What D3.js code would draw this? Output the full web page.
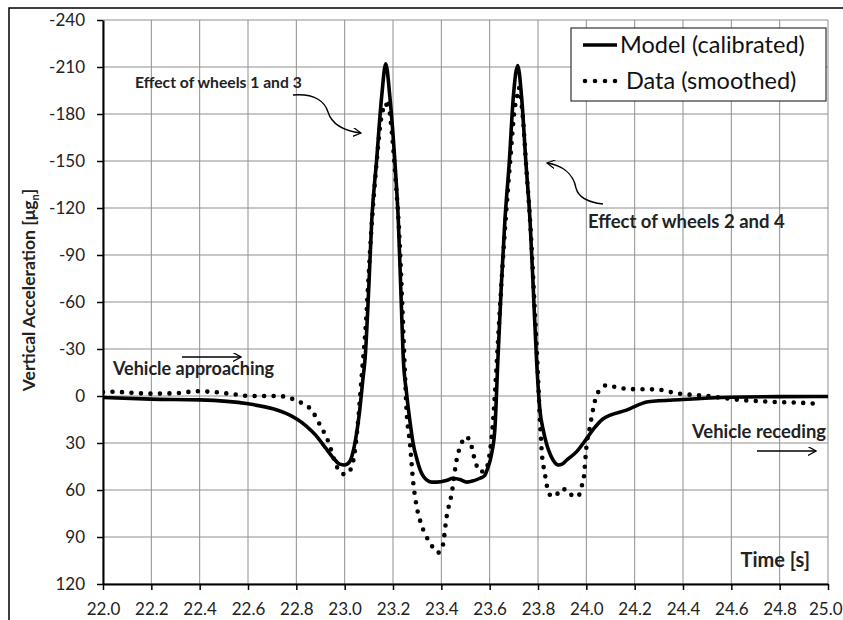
<!DOCTYPE html>
<html>
<head>
<meta charset="utf-8">
<script src="https://cdn.jsdelivr.net/npm/d3@7"></script>
<style>
  body { margin: 0; background: #fff; }
  text { font-family: Lato, "Open Sans", sans-serif; }
</style>
</head>
<body>
<div id="chart"></div>
<script>
var svgWidth = 843;
var svgHeight = 620;

var margin = { top: 20, right: 15, bottom: 36, left: 103 };
var width = 828 - margin.left;
var height = 584 - margin.top;

// Model (calibrated) - solid line
var modelTime = [22.00, 22.20, 22.40, 22.60, 22.80, 22.84, 22.88, 22.92, 22.95, 22.98, 23.00, 23.02, 23.04, 23.06, 23.075, 23.085,
  23.10, 23.112, 23.132, 23.153, 23.170, 23.187, 23.208, 23.222, 23.233, 23.243, 23.256, 23.27, 23.283, 23.30, 23.312, 23.339,
  23.36, 23.381, 23.42, 23.448, 23.48, 23.505, 23.535, 23.560, 23.578, 23.592, 23.608, 23.622, 23.634, 23.648, 23.663, 23.681,
  23.698, 23.716, 23.732, 23.750, 23.767, 23.78, 23.794, 23.808, 23.822, 23.836, 23.85, 23.863, 23.884, 23.90, 23.918, 23.96,
  24.00, 24.03, 24.07, 24.166, 24.256, 24.40, 24.60, 24.80, 25.00];
var modelAcc = [1, 2, 2.5, 5, 14.5, 19, 25, 33, 39, 43.5, 44, 42, 32, 12, -10, -25,
  -70, -112, -150, -191, -212, -191, -149, -112, -65, -23, -2, 16, 30, 41, 47, 53.6,
  55, 55, 54, 52.5, 53.5, 55, 54, 52.5, 51, 46, 37, 20, -23, -70, -112, -149,
  -191, -211, -191, -149, -112, -70, -23, 9, 22, 31, 37, 41, 44, 43.5, 41, 35.5,
  27.5, 21, 14.5, 9, 3.7, 2.2, 0.8, 0.4, 0.3];

// Data (smoothed) - dotted line
var dataTime = [22.00, 22.05, 22.10, 22.20, 22.30, 22.39, 22.46, 22.53, 22.61, 22.72, 22.77, 22.80, 22.83, 22.863, 22.898, 22.932,
  22.967, 22.987, 23.003, 23.015, 23.036, 23.056, 23.07, 23.085, 23.11, 23.13, 23.152, 23.163, 23.168, 23.178, 23.19, 23.21,
  23.227, 23.238, 23.248, 23.256, 23.27, 23.284, 23.298, 23.318, 23.346, 23.367, 23.387, 23.405, 23.422, 23.443, 23.463, 23.484,
  23.502, 23.521, 23.539, 23.56, 23.58, 23.598, 23.612, 23.625, 23.64, 23.665, 23.685, 23.705, 23.712, 23.72, 23.735, 23.752,
  23.77, 23.785, 23.797, 23.808, 23.815, 23.829, 23.836, 23.849, 23.874, 23.89, 23.918, 23.946, 23.966, 23.98, 23.99, 24.00,
  24.015, 24.03, 24.04, 24.056, 24.087, 24.125, 24.208, 24.29, 24.374, 24.50, 24.61, 24.746, 24.884, 24.967];
var dataAcc = [-2.5, -2.7, -2.2, -1.5, -1.8, -3, -2.5, -1.3, 0, 0, 1, 3.2, 5, 9, 18.5, 29,
  45, 49.4, 50, 49, 41, 15.3, -12, -40, -105, -145, -178, -184, -183, -189, -176, -140,
  -100, -60, -20, 9, 30, 55.6, 70.6, 82.3, 92, 97, 100, 96, 77, 62, 41, 30,
  26, 30, 41, 48.3, 48, 38.8, 20, -10, -50, -110, -150, -185, -190, -197, -182, -145,
  -105, -60, -23, 15, 34.5, 50, 56.8, 63, 64, 59.6, 59.6, 64, 64, 58, 51.5, 33,
  19.6, 7, 0.5, -3.8, -7, -5.5, -4.3, -4.2, -1.7, 0, 2.1, 3.6, 4.3, 5.1];

var xTicks = d3.range(22.0, 25.001, 0.2);
var yTicks = d3.range(-240, 121, 30);

var svg = d3.select("#chart")
  .append("svg")
  .attr("width", svgWidth)
  .attr("height", svgHeight);

// outer frame
svg.append("rect")
  .attr("x", 9).attr("y", 8)
  .attr("width", svgWidth).attr("height", svgHeight)
  .attr("fill", "none").attr("stroke", "#000").attr("stroke-width", 1.5);

var chartGroup = svg.append("g")
  .attr("transform", `translate(${margin.left}, ${margin.top})`);

var xScale = d3.scaleLinear().domain([22, 25]).range([0, width]);
var yScale = d3.scaleLinear().domain([-240, 120]).range([0, height]);

// gridlines
chartGroup.append("g")
  .selectAll("line")
  .data(xTicks)
  .enter()
  .append("line")
  .attr("x1", d => xScale(d)).attr("x2", d => xScale(d))
  .attr("y1", 0).attr("y2", height)
  .attr("stroke", "#8f8f8f").attr("stroke-width", 1);

chartGroup.append("g")
  .selectAll("line")
  .data(yTicks)
  .enter()
  .append("line")
  .attr("x1", 0).attr("x2", width)
  .attr("y1", d => yScale(d)).attr("y2", d => yScale(d))
  .attr("stroke", "#8f8f8f").attr("stroke-width", 1);

// axes
var bottomAxis = d3.axisBottom(xScale).tickValues(xTicks).tickFormat(d => d.toFixed(1)).tickSizeInner(6).tickSizeOuter(0).tickPadding(13);
var leftAxis = d3.axisLeft(yScale).tickValues(yTicks).tickFormat(d => String(d)).tickSizeInner(6).tickSizeOuter(0).tickPadding(12);

var xAxis = chartGroup.append("g")
  .attr("transform", `translate(0, ${height})`)
  .call(bottomAxis);
var yAxis = chartGroup.append("g").call(leftAxis);

[xAxis, yAxis].forEach(function(ax) {
  ax.select(".domain").attr("stroke", "#000").attr("stroke-width", 2);
  ax.selectAll(".tick line").attr("stroke", "#000").attr("stroke-width", 1.5);
  ax.selectAll(".tick text")
    .attr("font-family", "Lato, sans-serif")
    .attr("font-size", "17px")
    .attr("fill", "#222");
});

// last x label sits against the right edge of the picture
xAxis.selectAll(".tick text")
  .filter(d => d > 24.99)
  .attr("text-anchor", "end")
  .attr("dx", 14);

// clip
svg.append("clipPath").attr("id", "plotclip")
  .append("rect").attr("x", 0).attr("y", -5).attr("width", width).attr("height", height + 10);

var line = d3.line()
  .x(d => xScale(d[0]))
  .y(d => yScale(d[1]))
  .curve(d3.curveMonotoneX);

var dataPts = dataTime.map((t, i) => [t, dataAcc[i]]);
var modelPts = modelTime.map((t, i) => [t, modelAcc[i]]);

var lines = chartGroup.append("g").attr("clip-path", "url(#plotclip)");

lines.append("path")
  .datum(dataPts)
  .attr("d", line)
  .attr("fill", "none")
  .attr("stroke", "#000")
  .attr("stroke-width", 4.6)
  .attr("stroke-linecap", "round")
  .attr("stroke-dasharray", "0 9.5");

lines.append("path")
  .datum(modelPts)
  .attr("d", line)
  .attr("fill", "none")
  .attr("stroke", "#000")
  .attr("stroke-width", 3.6)
  .attr("stroke-linejoin", "round");

// axis titles
svg.append("text")
  .attr("transform", "translate(35, 290) rotate(-90)")
  .attr("text-anchor", "middle")
  .attr("font-size", "17.5px")
  .attr("font-weight", "bold")
  .attr("fill", "#222")
  .text("Vertical Acceleration [μg")
  .append("tspan").attr("font-size", "11px").attr("dy", 4).text("n")
  .select(function() { return this.parentNode; })
  .append("tspan").attr("dy", -4).text("]");

svg.append("text")
  .attr("x", 810).attr("y", 567)
  .attr("text-anchor", "end")
  .attr("font-size", "20px")
  .attr("font-weight", "bold")
  .attr("fill", "#222")
  .text("Time [s]");

// legend
var legend = svg.append("g");
legend.append("rect")
  .attr("x", 571).attr("y", 28).attr("width", 255).attr("height", 73)
  .attr("fill", "#fff").attr("stroke", "#333").attr("stroke-width", 1.2);
legend.append("line")
  .attr("x1", 583).attr("x2", 617).attr("y1", 45).attr("y2", 45)
  .attr("stroke", "#000").attr("stroke-width", 3.6);
legend.append("line")
  .attr("x1", 585).attr("x2", 617).attr("y1", 81).attr("y2", 81)
  .attr("stroke", "#000").attr("stroke-width", 4.6)
  .attr("stroke-linecap", "round").attr("stroke-dasharray", "0 10");
legend.append("text").attr("x", 620).attr("y", 53)
  .attr("font-size", "23.5px").attr("fill", "#111").text("Model (calibrated)");
legend.append("text").attr("x", 626).attr("y", 89)
  .attr("font-size", "23.5px").attr("fill", "#111").text("Data (smoothed)");

// annotations
var defs = svg.append("defs");
defs.append("marker")
  .attr("id", "head")
  .attr("viewBox", "0 0 10 10")
  .attr("refX", 9).attr("refY", 5)
  .attr("markerWidth", 9).attr("markerHeight", 9)
  .attr("markerUnits", "userSpaceOnUse")
  .attr("orient", "auto")
  .append("path")
  .attr("d", "M0,0 L9,5 L0,10")
  .attr("fill", "none").attr("stroke", "#000").attr("stroke-width", 1.4);

var notes = [
  { text: "Effect of wheels 1 and 3", x: 135, y: 88, size: 15.7 },
  { text: "Effect of wheels 2 and 4", x: 588, y: 228, size: 18.5 },
  { text: "Vehicle approaching", x: 113, y: 375, size: 18 },
  { text: "Vehicle receding", x: 692, y: 438, size: 18.4 }
];
svg.selectAll(".note")
  .data(notes)
  .enter()
  .append("text")
  .attr("class", "note")
  .attr("x", d => d.x).attr("y", d => d.y)
  .attr("font-size", d => d.size + "px")
  .attr("font-weight", "bold")
  .attr("fill", "#222")
  .text(d => d.text);

var arrows = [
  "M293,95 C315,93 325,102 328,112 C332,125 345,131 361,133",
  "M603,204 C585,202 578,196 576,188 C573,172 560,165 547,163",
  "M182,357 L241,357",
  "M757,451 L816,451"
];
svg.selectAll(".arrow")
  .data(arrows)
  .enter()
  .append("path")
  .attr("class", "arrow")
  .attr("d", d => d)
  .attr("fill", "none")
  .attr("stroke", "#000")
  .attr("stroke-width", 1.4)
  .attr("marker-end", "url(#head)");
</script>
</body>
</html>
